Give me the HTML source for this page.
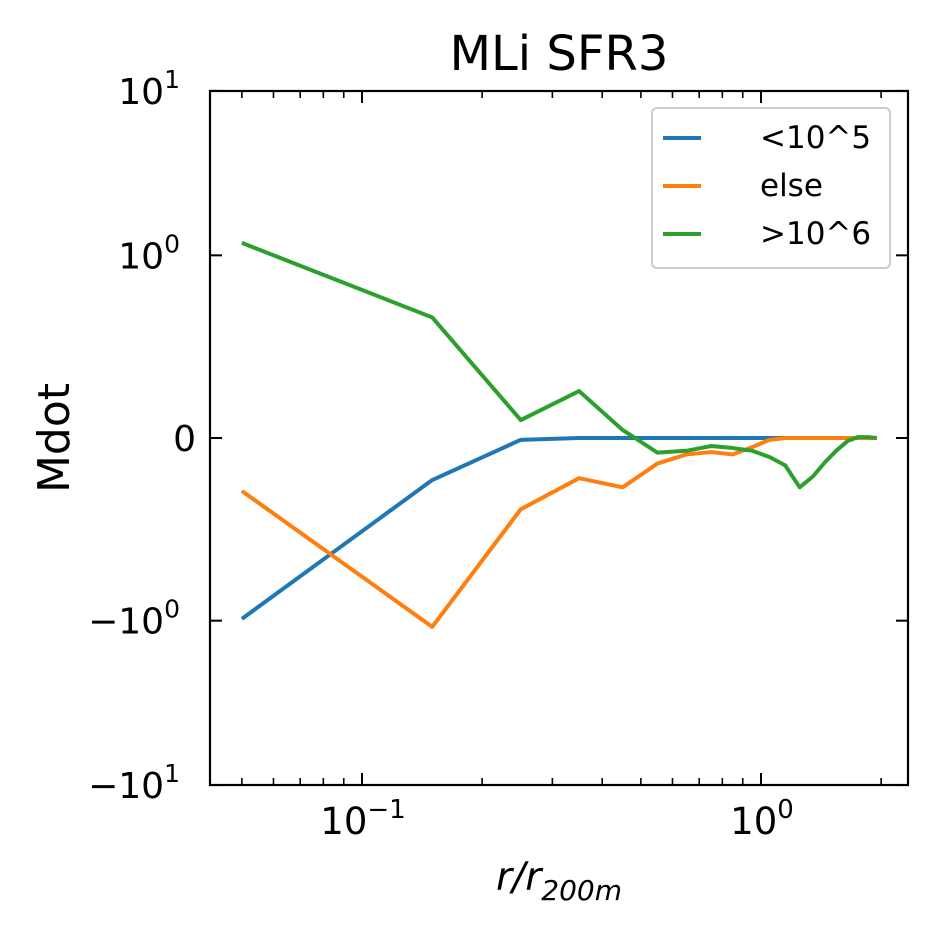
<!DOCTYPE html>
<html><head><meta charset="utf-8"><style>
body{margin:0;background:#fff;}
svg{display:block;font-family:"DejaVu Sans","Liberation Sans",sans-serif;}
</style></head><body>
<svg id="chart" width="937" height="931" viewBox="0 0 937 931" xmlns="http://www.w3.org/2000/svg">
<text x="559" y="70" font-size="48" text-anchor="middle">MLi SFR3</text>
<g id="plot"></g>
<rect x="210" y="91" width="698" height="694" fill="none" stroke="#000" stroke-width="2.2"/>
<text x="559" y="890" font-size="39" text-anchor="middle" font-style="italic">r/r<tspan font-size="28" dy="10" font-style="italic">200m</tspan></text>
<text x="0" y="0" font-size="44" text-anchor="middle" transform="translate(69,438) rotate(-90)">Mdot</text>
<g>
<rect x="652" y="108" width="238" height="160" rx="5" fill="#fff" stroke="#ccc" stroke-width="2"/>
<line x1="663" y1="138" x2="701" y2="138" stroke="#1f77b4" stroke-width="4"/>
<text x="760" y="148" font-size="31">&lt;10^5</text>
<line x1="663" y1="186" x2="701" y2="186" stroke="#ff7f0e" stroke-width="4"/>
<text x="760" y="196" font-size="31">else</text>
<line x1="663" y1="234" x2="701" y2="234" stroke="#2ca02c" stroke-width="4"/>
<text x="760" y="244" font-size="31">&gt;10^6</text>
</g>
</svg>
<script>
const xValues=[0.05,0.15,0.25,0.35,0.45,0.55,0.65,0.75,0.85,0.95,1.05,1.15,1.25,1.35,1.45,1.55,1.65,1.75,1.85,1.95];
const lowValues=[-0.99,-0.23,-0.01,0,0,0,0,0,0,0,0,0,0,0,0,0,0,0,0,0];
const elseValues=[-0.29,-1.09,-0.39,-0.22,-0.27,-0.14,-0.09,-0.077,-0.09,-0.05,-0.01,0,0,0,0,0,0,0,0,0];
const highValues=[1.19,0.66,0.098,0.257,0.044,-0.08,-0.07,-0.044,-0.055,-0.07,-0.104,-0.15,-0.27,-0.21,-0.13,-0.066,-0.016,0.005,0.005,0];
const yTickValues=[10,1,0,-1,-10];
const yTickLabels=[["10","1"],["10","0"],["0",null],["\u221210","0"],["\u221210","1"]];
const xTickValues=[0.1,1];
const xTickLabels=[["10","\u22121"],["10","0"]];

const NS="http://www.w3.org/2000/svg";
const g=document.getElementById('plot');
function xs(v){return 362+(Math.log10(v)+1)*399;}
function T(v){const a=Math.abs(v);return a<=1?v/0.9:Math.sign(v)*(1/0.9+Math.log10(a));}
function ys(v){return 438-T(v)*164.4;}
function mk(tag,attrs){const e=document.createElementNS(NS,tag);for(const k in attrs)e.setAttribute(k,attrs[k]);g.appendChild(e);return e;}

for(let d=-2;d<=0;d++)for(let m=1;m<=9;m++){const v=m*Math.pow(10,d);const x=xs(v);if(x<210||x>908)continue;const len=m===1?12:7;
 const a=mk('line',{x1:x,y1:785,x2:x,y2:785-len,stroke:'#000','stroke-width':m===1?2:1.6});
 
 
 const b=mk('line',{x1:x,y1:91,x2:x,y2:91+len,stroke:'#000','stroke-width':m===1?2:1.6});
 
 }
xTickValues.forEach((v,i)=>{const t=mk('text',{x:xs(v)+1,y:834,'font-size':37,'text-anchor':'middle'});
 
 
 t.innerHTML=xTickLabels[i][0]+'<tspan font-size="26" dy="-16">'+xTickLabels[i][1]+'</tspan>';});
yTickValues.forEach((v,i)=>{const y=ys(v);
 const a=mk('line',{x1:210,y1:y,x2:222,y2:y,stroke:'#000','stroke-width':2});
 
 
 const b=mk('line',{x1:908,y1:y,x2:896,y2:y,stroke:'#000','stroke-width':2});
 
 
 const l=yTickLabels[i];
 const t=mk('text',{x:l[1]===null?196:180,y:y+13,'font-size':36,'text-anchor':'end'});
 
 
 t.innerHTML=l[0]+(l[1]!==null?'<tspan font-size="25" dy="-16">'+l[1]+'</tspan>':'');});
[[lowValues,'#1f77b4','series-low'],[elseValues,'#ff7f0e','series-else'],[highValues,'#2ca02c','series-high']].forEach(([vals,c,n])=>{
 const p=mk('polyline',{points:vals.map((v,i)=>xs(xValues[i])+','+ys(v)).join(' '),fill:'none',stroke:c,'stroke-width':4,'stroke-linejoin':'round'});
 
 });
</script>
</body></html>
